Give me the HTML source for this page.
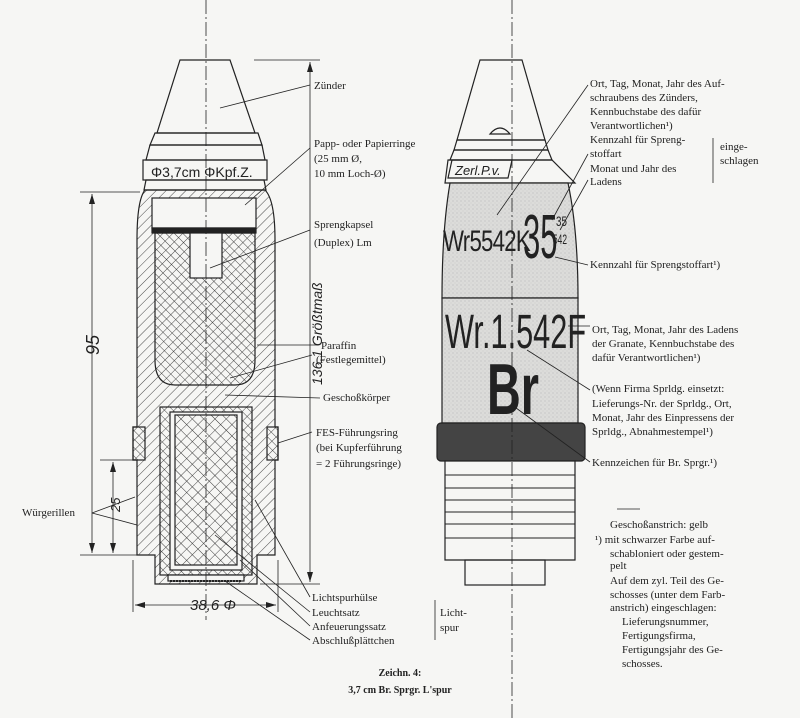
<!DOCTYPE html>
<html><head><meta charset="utf-8"><style>
html,body{margin:0;padding:0;background:#f6f6f4;}
svg{display:block}
text{font-family:"Liberation Serif",serif;font-size:11px;fill:#222;}
.s{font-family:"Liberation Sans",sans-serif;}
</style></head><body>
<svg width="800" height="718" viewBox="0 0 800 718">
<defs>
<pattern id="h" width="7" height="7" patternUnits="userSpaceOnUse" patternTransform="rotate(45)">
<line x1="0" y1="0" x2="0" y2="7" stroke="#333" stroke-width="0.9"/></pattern>
<pattern id="h2" width="6" height="6" patternUnits="userSpaceOnUse" patternTransform="rotate(-45)">
<line x1="0" y1="0" x2="0" y2="6" stroke="#333" stroke-width="0.9"/></pattern>
<pattern id="x" width="8" height="8" patternUnits="userSpaceOnUse" patternTransform="rotate(45)">
<path d="M0 0V8M0 0H8" stroke="#333" stroke-width="0.9" fill="none"/></pattern>
<pattern id="g" width="4" height="4" patternUnits="userSpaceOnUse">
<rect width="4" height="4" fill="#dcdcda"/><circle cx="1" cy="1" r="0.6" fill="#bbb"/><circle cx="3" cy="3" r="0.5" fill="#c6c6c6"/></pattern>
</defs>
<g stroke="#222" stroke-width="1.2" fill="none">
<!-- LEFT SHELL -->
<path d="M180 60H230L255 133H157Z" fill="#f6f6f4"/>
<path d="M155 133H258L262 145H150Z"/>
<path d="M150 145H262L265 160H146Z"/>
<rect x="143" y="160" width="124" height="20"/>
<path d="M146 180H264L266 190H144Z"/>
<path d="M145 190H265Q275 200 275 240V427H278V460H275V555H257V584H155V555H137V460H133V427H137V240Q137 200 145 190Z" fill="url(#h)"/>
<rect x="133" y="427" width="12" height="33" fill="url(#h2)"/>
<rect x="267" y="427" width="11" height="33" fill="url(#h2)"/>
<rect x="152" y="198" width="104" height="30" fill="#f6f6f4"/>
<rect x="152" y="228" width="104" height="5" fill="#222"/>
<path d="M155 233H255V360Q255 385 235 385H175Q155 385 155 360Z" fill="url(#h2)"/>
<rect x="190" y="233" width="32" height="45" fill="#f6f6f4"/>
<rect x="160" y="407" width="92" height="168" fill="url(#h2)"/>
<rect x="170" y="412" width="72" height="158" fill="#f6f6f4"/>
<rect x="175" y="415" width="62" height="150" fill="url(#x)"/>
<rect x="168" y="575" width="76" height="6" fill="#f6f6f4"/>
<line x1="170" y1="581" x2="242" y2="581" stroke-width="2" stroke-dasharray="2 1"/>
<line x1="206" y1="0" x2="206" y2="620" stroke-width="0.8" stroke-dasharray="14 3 2 3"/>
<line x1="254" y1="60" x2="320" y2="60" stroke-width="0.8"/>
<line x1="260" y1="584" x2="320" y2="584" stroke-width="0.8"/>
<line x1="310" y1="62" x2="310" y2="582" stroke-width="0.8"/>
<line x1="80" y1="192" x2="140" y2="192" stroke-width="0.8"/>
<line x1="80" y1="555" x2="137" y2="555" stroke-width="0.8"/>
<line x1="92" y1="194" x2="92" y2="553" stroke-width="0.8"/>
<line x1="100" y1="460" x2="135" y2="460" stroke-width="0.8"/>
<line x1="113" y1="462" x2="113" y2="553" stroke-width="0.8"/>
<line x1="133" y1="560" x2="133" y2="612" stroke-width="0.8"/>
<line x1="278" y1="560" x2="278" y2="612" stroke-width="0.8"/>
<line x1="135" y1="605" x2="276" y2="605" stroke-width="0.8"/>
<g stroke-width="0.8">
<line x1="220" y1="108" x2="310" y2="85"/>
<line x1="245" y1="205" x2="310" y2="148"/>
<line x1="210" y1="268" x2="310" y2="230"/>
<line x1="257" y1="345" x2="318" y2="345"/>
<line x1="230" y1="378" x2="312" y2="355"/>
<line x1="225" y1="395" x2="320" y2="398"/>
<line x1="278" y1="443" x2="312" y2="432"/>
<line x1="92" y1="513" x2="135" y2="497"/><line x1="92" y1="513" x2="137" y2="525"/>
<line x1="255" y1="500" x2="310" y2="597"/>
<line x1="215" y1="535" x2="310" y2="612"/>
<line x1="240" y1="560" x2="310" y2="626"/>
<line x1="225" y1="581" x2="310" y2="640"/>
<line x1="435" y1="600" x2="435" y2="640"/>
</g>
<!-- RIGHT SHELL -->
<path d="M480 60H522L545 140H457Z" fill="#f6f6f4"/>
<path d="M490 134Q500 122 510 134Z"/>
<path d="M457 140H545L548 150H454Z"/>
<path d="M454 150H548L552 160H450Z"/>
<path d="M452 160H512L508 178H448Z"/>
<path d="M448 160H552L575 183H445Z"/>
<path d="M450 183H568Q578 230 578 298H442Q442 230 450 183Z" fill="url(#g)"/>
<rect x="442" y="298" width="136" height="125" fill="url(#g)"/>
<rect x="437" y="423" width="148" height="38" rx="4" fill="#444"/>
<path d="M445 461H575V560H445Z" fill="#f6f6f4"/>
<path d="M445 475H575M445 488H575M445 500H575M445 512H575M445 524H575M445 538H575" stroke-width="0.9"/>
<rect x="465" y="560" width="80" height="25"/>
<line x1="512" y1="0" x2="512" y2="718" stroke-width="0.8" stroke-dasharray="14 3 2 3"/>
<g stroke-width="0.8">
<line x1="497" y1="215" x2="588" y2="85"/>
<line x1="552" y1="220" x2="588" y2="154"/>
<line x1="560" y1="230" x2="588" y2="180"/>
<line x1="555" y1="257" x2="588" y2="265"/>
<line x1="568" y1="326" x2="590" y2="326"/>
<line x1="527" y1="350" x2="590" y2="390"/>
<line x1="512" y1="405" x2="590" y2="462"/>
<line x1="713" y1="138" x2="713" y2="183"/>
<line x1="617" y1="509" x2="640" y2="509"/>
</g>
</g>
<g fill="#222">
<path d="M310 62l-3 10h6z"/><path d="M310 582l-3-10h6z"/>
<path d="M92 194l-3 10h6z"/><path d="M92 553l-3-10h6z"/>
<path d="M113 462l-3 10h6z"/><path d="M113 553l-3-10h6z"/>
<path d="M135 605l10-3v6z"/><path d="M276 605l-10-3v6z"/>
</g>
<text class="s" x="151" y="177" style="font-size:14px">Φ3,7cm ΦKpf.Z.</text>
<text class="s" transform="translate(99,355) rotate(-90)" style="font-size:18px;font-style:italic">95</text>
<text class="s" transform="translate(120,512) rotate(-90)" style="font-size:13px;font-style:italic">25</text>
<text class="s" transform="translate(322,385) rotate(-90)" style="font-size:14px;font-style:italic">136,1 Größtmaß</text>
<text class="s" x="190" y="610" style="font-size:15px;font-style:italic">38,6 Φ</text>
<text x="314" y="89">Zünder</text>
<text x="314" y="147">Papp- oder Papierringe</text>
<text x="314" y="162">(25 mm Ø,</text>
<text x="314" y="177">10 mm Loch-Ø)</text>
<text x="314" y="228">Sprengkapsel</text>
<text x="314" y="246">(Duplex) Lm</text>
<text x="321" y="349">Paraffin</text>
<text x="316" y="363">(Festlegemittel)</text>
<text x="323" y="401">Geschoßkörper</text>
<text x="316" y="436">FES-Führungsring</text>
<text x="316" y="451">(bei Kupferführung</text>
<text x="316" y="467">= 2 Führungsringe)</text>
<text x="22" y="516">Würgerillen</text>
<text x="312" y="601">Lichtspurhülse</text>
<text x="312" y="616">Leuchtsatz</text>
<text x="312" y="630">Anfeuerungssatz</text>
<text x="312" y="644">Abschlußplättchen</text>
<text x="440" y="616">Licht-</text>
<text x="440" y="631">spur</text>
<!-- right shell text, condensed -->
<text class="s" x="455" y="175" style="font-size:13px;font-style:italic">Zerl.P.v.</text>
<text class="s" transform="translate(443,251) scale(0.74,1)" style="font-size:30px;letter-spacing:-1px">Wr5542K</text>
<text class="s" transform="translate(523,258) scale(0.5,1)" style="font-size:62px">35</text>
<text class="s" transform="translate(556,226) scale(0.7,1)" style="font-size:14px">35</text>
<text class="s" transform="translate(553,244) scale(0.6,1)" style="font-size:14px">542</text>
<text class="s" transform="translate(445,348) scale(0.64,1)" style="font-size:48px">Wr.1.542F</text>
<text class="s" transform="translate(487,414) scale(0.65,1)" style="font-size:72px;font-weight:bold">Br</text>
<text x="590" y="87">Ort, Tag, Monat, Jahr des Auf-</text>
<text x="590" y="101">schraubens des Zünders,</text>
<text x="590" y="115">Kennbuchstabe des dafür</text>
<text x="590" y="129">Verantwortlichen¹)</text>
<text x="590" y="143">Kennzahl für Spreng-</text>
<text x="590" y="157">stoffart</text>
<text x="590" y="172">Monat und Jahr des</text>
<text x="590" y="185">Ladens</text>
<text x="720" y="150">einge-</text>
<text x="720" y="164">schlagen</text>
<text x="590" y="268">Kennzahl für Sprengstoffart¹)</text>
<text x="592" y="333">Ort, Tag, Monat, Jahr des Ladens</text>
<text x="592" y="347">der Granate, Kennbuchstabe des</text>
<text x="592" y="361">dafür Verantwortlichen¹)</text>
<text x="592" y="392">(Wenn Firma Sprldg. einsetzt:</text>
<text x="592" y="407">Lieferungs-Nr. der Sprldg., Ort,</text>
<text x="592" y="421">Monat, Jahr des Einpressens der</text>
<text x="592" y="435">Sprldg., Abnahmestempel¹)</text>
<text x="592" y="466">Kennzeichen für Br. Sprgr.¹)</text>
<text x="610" y="528">Geschoßanstrich: gelb</text>
<text x="595" y="543">¹) mit schwarzer Farbe auf-</text>
<text x="610" y="557">schabloniert oder gestem-</text>
<text x="610" y="569">pelt</text>
<text x="610" y="584">Auf dem zyl. Teil des Ge-</text>
<text x="610" y="598">schosses (unter dem Farb-</text>
<text x="610" y="611">anstrich) eingeschlagen:</text>
<text x="622" y="625">Lieferungsnummer,</text>
<text x="622" y="639">Fertigungsfirma,</text>
<text x="622" y="653">Fertigungsjahr des Ge-</text>
<text x="622" y="667">schosses.</text>
<text x="400" y="676" text-anchor="middle" style="font-weight:bold;font-size:10px">Zeichn. 4:</text>
<text x="400" y="693" text-anchor="middle" style="font-weight:bold;font-size:10px">3,7 cm Br. Sprgr. L'spur</text>
</svg>
</body></html>
